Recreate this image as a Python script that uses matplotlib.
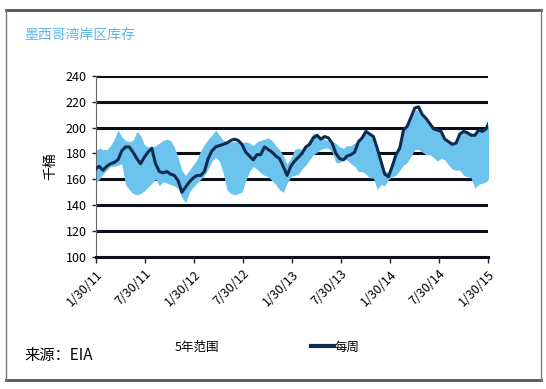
import matplotlib
matplotlib.use("Agg")
import matplotlib.pyplot as plt
from matplotlib.lines import Line2D
import pandas as pd

plt.rcParams['font.family'] = ['Noto Sans CJK SC', 'DejaVu Sans']

# biweekly readings, Jan 2011 - Jan 2015 (thousand barrels)
weekly = [168, 170, 167, 170, 172, 173, 175, 182, 185, 185, 181, 176, 172, 177, 181, 184,
          172, 166, 165, 166, 164, 163, 159, 150, 154, 158, 161, 163, 163, 166, 176, 182,
          185, 186, 187, 188, 190, 191, 190, 187, 181, 178, 175, 179, 179, 185, 183, 181,
          178, 176, 170, 163, 170, 174, 177, 180, 185, 187, 192, 194, 191, 193, 192, 188,
          180, 176, 175, 178, 179, 181, 189, 192, 197, 195, 193, 184, 174, 164, 162, 170,
          179, 184, 198, 201, 208, 215, 216, 210, 207, 203, 199, 198, 197, 191, 189, 187,
          188, 195, 197, 196, 194, 194, 198, 197, 199, 205]
range_hi = [182, 184, 183, 183, 186, 191, 198, 193, 190, 189, 190, 197, 194, 187, 185, 185,
            186, 188, 190, 191, 190, 185, 177, 167, 163, 167, 171, 175, 182, 187, 191, 194,
            198, 194, 190, 190, 189, 189, 189, 188, 189, 188, 186, 189, 190, 191, 192, 190,
            186, 183, 178, 172, 176, 183, 184, 183, 186, 191, 196, 194, 192, 191, 190, 189,
            188, 185, 184, 186, 186, 188, 189, 195, 197, 196, 193, 186, 175, 166, 166, 174,
            180, 184, 197, 202, 207, 213, 214, 209, 206, 203, 199, 198, 197, 190, 188, 187,
            189, 195, 197, 196, 194, 194, 197, 197, 199, 205]
range_lo = [157, 160, 164, 167, 170, 170, 171, 172, 156, 152, 149, 148, 149, 151, 154, 157,
            160, 155, 158, 157, 156, 155, 153, 146, 142, 150, 154, 157, 160, 163, 168, 174,
            177, 174, 165, 152, 149, 148, 149, 150, 159, 166, 170, 168, 165, 163, 162, 159,
            156, 152, 150, 157, 162, 163, 164, 168, 171, 175, 179, 181, 183, 184, 184, 181,
            173, 173, 175, 175, 172, 170, 166, 166, 164, 161, 161, 152, 156, 155, 160, 162,
            163, 167, 171, 173, 178, 183, 183, 181, 179, 179, 177, 174, 176, 175, 171, 168,
            167, 167, 163, 162, 161, 153, 156, 157, 158, 162]
dates = pd.date_range('2011-01-28', periods=len(weekly), freq='14D')
tick_dates = ['2011-01-30', '2011-07-30', '2012-01-30', '2012-07-30', '2013-01-30',
              '2013-07-30', '2014-01-30', '2014-07-30', '2015-01-30']
tick_labels = ['1/30/11', '7/30/11', '1/30/12', '7/30/12', '1/30/13',
               '7/30/13', '1/30/14', '7/30/14', '1/30/15']
yticks = [100, 120, 140, 160, 180, 200, 220, 240]

fig = plt.figure(figsize=(5.46, 3.89), dpi=100)
ax = fig.add_axes([0.1758, 0.3393, 0.718, 0.4661])

for y in yticks[1:]:
    ax.axhline(y, color='#0a0f1a', lw=2.2, zorder=1)
ax.fill_between(dates, range_lo, range_hi, color='#6cc4ee', lw=0, zorder=2)
ax.plot(dates, weekly, color='#0e2c50', lw=2.2, zorder=3)

ax.set_xlim(pd.Timestamp('2011-01-30'), pd.Timestamp('2015-01-30'))
ax.set_ylim(100, 240)
ax.set_yticks(yticks)
ax.set_xticks(pd.to_datetime(tick_dates))
ax.set_xticklabels(tick_labels, rotation=45, ha='right', rotation_mode='anchor')
ax.tick_params(axis='both', labelsize=9, color='#222222', length=4, width=1)
ax.tick_params(axis='y', direction='inout', length=6)
for s in ['top', 'right']:
    ax.spines[s].set_visible(False)
ax.spines['left'].set_color('#666666')
ax.spines['bottom'].set_color('#0a0f1a')
ax.spines['bottom'].set_linewidth(2.2)
ax.set_ylabel('千桶', fontsize=10, labelpad=6)

fig.text(0.044, 0.91, '墨西哥湾岸区库存', color='#5bb8e8', fontsize=10, va='center')
fig.text(0.044, 0.085, '来源：EIA', fontsize=11, va='center')

# legend: band entry has no visible key in the original
fig.text(175 / 546, 0.108, '5年范围', fontsize=9, va='center')
fig.legend([Line2D([0], [0], color='#0e2c50', lw=3)], ['每周'], loc='center left',
           bbox_to_anchor=(0.549, 0.108), frameon=False, fontsize=9,
           handlelength=1.8, handletextpad=0.1)

# outer frame
fig.add_artist(Line2D([0.011, 0.991], [0.975, 0.975], color='#555555', lw=2))
fig.add_artist(Line2D([0.011, 0.991], [0.023, 0.023], color='#555555', lw=2))
fig.add_artist(Line2D([0.011, 0.011], [0.023, 0.975], color='#777777', lw=1))
fig.add_artist(Line2D([0.991, 0.991], [0.023, 0.975], color='#777777', lw=1))

fig.savefig('out.png', dpi=100)
